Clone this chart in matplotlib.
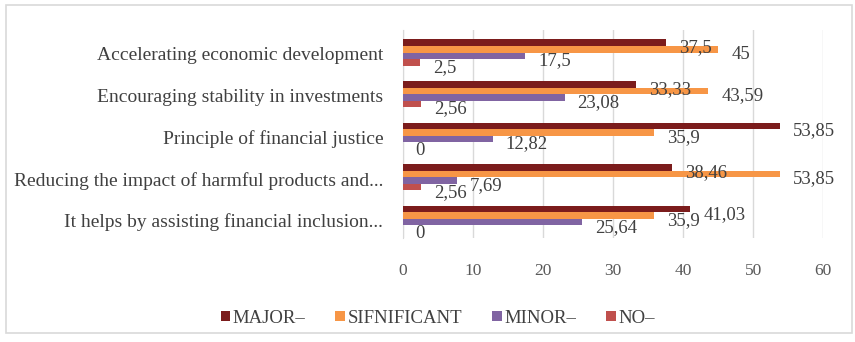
import matplotlib
matplotlib.use('Agg')
import matplotlib.pyplot as plt
import matplotlib.transforms as mtransforms
import numpy as np
from matplotlib.patches import Rectangle

plt.rcParams['font.family'] = ['Liberation Serif', 'DejaVu Serif']

# data (top group first)
categories = ["Accelerating economic development",
              "Encouraging stability in investments",
              "Principle of financial justice",
              "Reducing the impact of harmful products and...",
              "It helps by assisting financial inclusion..."]
series_names = ["MAJOR\u2013", "SIFNIFICANT", "MINOR\u2013", "NO\u2013"]
major = [37.5, 33.33, 53.85, 38.46, 41.03]
significant = [45, 43.59, 35.9, 53.85, 35.9]
minor = [17.5, 23.08, 12.82, 7.69, 25.64]
no = [2.5, 2.56, 0, 2.56, 0]
colors = ["#7b1c1c", "#f79646", "#8064a2", "#c0504d"]

fig = plt.figure(figsize=(8.55, 3.42), dpi=100)
ax = fig.add_axes([0.471, 0.304, 0.492, 0.608])

# light frame around whole figure
fig.patches.append(Rectangle((0.007, 0.026), 0.99, 0.96, transform=fig.transFigure,
                             fill=False, edgecolor="#d9d9d9", lw=1.2))

n = len(categories)
y = np.arange(n)[::-1].astype(float)
h = 0.157
all_series = [major, significant, minor, no]
for i, vals in enumerate(all_series):
    ypos = y + (1.5 - i) * h - 0.04
    ax.barh(ypos, vals, height=h, color=colors[i], label=series_names[i], zorder=3)
    for yy, v in zip(ypos, vals):
        txt = ("%g" % v).replace(".", ",")
        ax.annotate(txt, (v, yy), xytext=(13, -5), textcoords='offset pixels',
                    ha='left', va='center', fontsize=13.5, color="#404040", zorder=4)

ax.set_xlim(0, 60)
ax.set_ylim(-0.5, n - 0.5)
ax.set_xticks(np.arange(0, 61, 10))
ax.set_yticks(y)
ax.set_yticklabels(categories, fontsize=14, color="#404040")
ax.tick_params(axis='x', labelsize=12.5, colors="#595959", length=0, pad=18)
ax.tick_params(axis='y', length=0, pad=14)
# category labels sit a little low in the original
shift = mtransforms.ScaledTranslation(0, -3 / 100, fig.dpi_scale_trans)
for lab in ax.get_yticklabels():
    lab.set_transform(lab.get_transform() + shift)
ax.grid(axis='x', color="#d9d9d9", lw=1, zorder=0)
for s in ['top', 'right', 'bottom']:
    ax.spines[s].set_visible(False)
ax.spines['left'].set_color("#d9d9d9")

fig.legend(loc='center', bbox_to_anchor=(0.512, 0.07), ncol=4, frameon=False,
           fontsize=13.5, handlelength=0.5, handleheight=0.5, handletextpad=0.15,
           columnspacing=1.6, labelcolor="#404040")

fig.savefig("out.png", dpi=100)
